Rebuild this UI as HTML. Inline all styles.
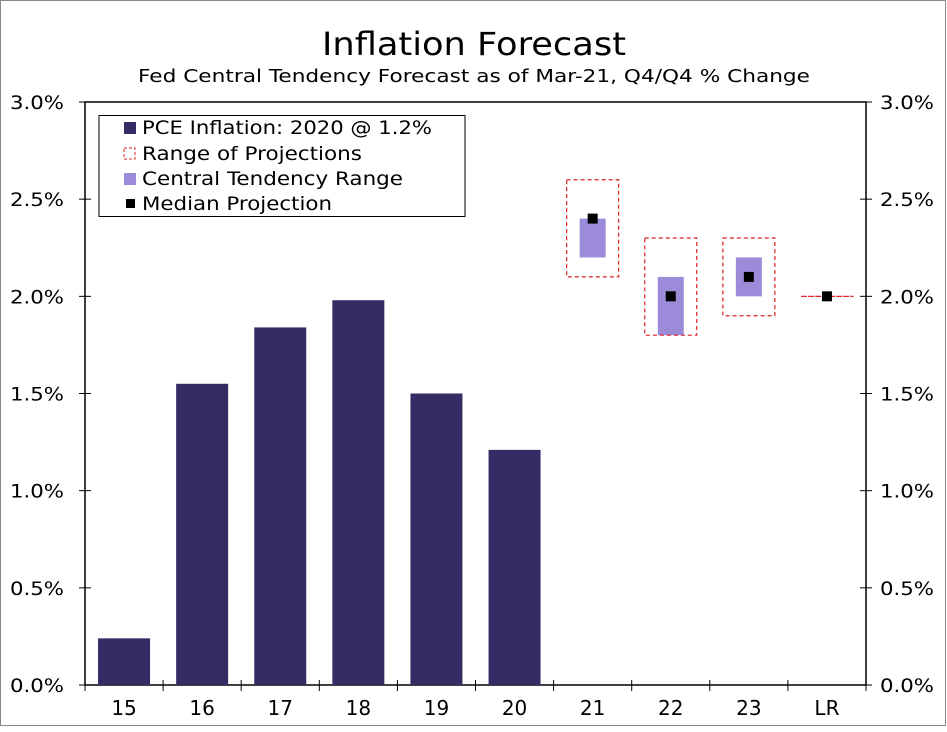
<!DOCTYPE html>
<html><head><meta charset="utf-8"><style>
body{margin:0;background:#fff}
svg text{font-family:"DejaVu Sans","Liberation Sans",sans-serif}
</style></head><body>
<svg id="chart" width="947" height="727" xmlns="http://www.w3.org/2000/svg">
<rect x="0.5" y="0.5" width="945" height="725" fill="#fff" stroke="#888"/>
<text x="322" y="55" font-size="32" textLength="304" lengthAdjust="spacingAndGlyphs">Inflation Forecast</text>
<text x="138" y="82" font-size="18" textLength="672" lengthAdjust="spacingAndGlyphs">Fed Central Tendency Forecast as of Mar-21, Q4/Q4 % Change</text>
<g id="axes"></g>
<g id="marks"></g>
<g>
<rect x="99" y="115.5" width="366" height="101" fill="#fff" stroke="#000"/>
<rect x="124" y="122" width="12" height="12" fill="#352c66"/>
<text x="142" y="134" font-size="19" textLength="290" lengthAdjust="spacingAndGlyphs">PCE Inflation: 2020 @ 1.2%</text>
<rect x="124" y="148" width="11" height="11" fill="none" stroke="#d22" stroke-dasharray="3,2"/>
<text x="142" y="160" font-size="19" textLength="220" lengthAdjust="spacingAndGlyphs">Range of Projections</text>
<rect x="124" y="173" width="12" height="12" fill="#9b8bd9"/>
<text x="142" y="185" font-size="19" textLength="261" lengthAdjust="spacingAndGlyphs">Central Tendency Range</text>
<rect x="126" y="199" width="9" height="9" fill="#000"/>
<text x="142" y="210" font-size="19" textLength="190" lengthAdjust="spacingAndGlyphs">Median Projection</text>
</g>
</svg>
<script>
const categories=["15","16","17","18","19","20","21","22","23","LR"];
const pceValues=[0.24,1.55,1.84,1.98,1.50,1.21,null,null,null,null];
const rangeLow=[null,null,null,null,null,null,2.1,1.8,1.9,2.0];
const rangeHigh=[null,null,null,null,null,null,2.6,2.3,2.3,2.0];
const centralLow=[null,null,null,null,null,null,2.2,1.8,2.0,2.0];
const centralHigh=[null,null,null,null,null,null,2.4,2.1,2.2,2.0];
const medianValues=[null,null,null,null,null,null,2.4,2.0,2.1,2.0];
const yTicks=[0,0.5,1.0,1.5,2.0,2.5,3.0];
const yTickLabels=["0.0%","0.5%","1.0%","1.5%","2.0%","2.5%","3.0%"];

const NS="http://www.w3.org/2000/svg";
const L=85,R=866,T=102,B=685,step=(R-L)/categories.length;
const y=v=>B-(v/3)*(B-T);
const xc=i=>L+step*(i+0.5);
function mk(tag,attrs,parent){const e=document.createElementNS(NS,tag);for(const k in attrs)e.setAttribute(k,attrs[k]);parent.appendChild(e);return e;}
const axes=document.getElementById('axes'),marks=document.getElementById('marks');
let e;
e=mk('rect',{x:L,y:T,width:R-L,height:B-T,fill:'none',stroke:'#000','stroke-width':1.5},axes);


yTicks.forEach((t,i)=>{
 e=mk('line',{x1:L-6,x2:L+6,y1:y(t),y2:y(t),stroke:'#000'},axes);
 
 
 e=mk('line',{x1:R-6,x2:R+6,y1:y(t),y2:y(t),stroke:'#000'},axes);
 
 
 e=mk('text',{x:10,y:y(t)+7,'font-size':19,textLength:54,lengthAdjust:'spacingAndGlyphs'},axes);e.textContent=yTickLabels[i];
 
 
 e=mk('text',{x:R+14,y:y(t)+7,'font-size':19,textLength:54,lengthAdjust:'spacingAndGlyphs'},axes);e.textContent=yTickLabels[i];
 
 
});
for(let i=0;i<=categories.length;i++){
 e=mk('line',{x1:L+step*i,x2:L+step*i,y1:B-5,y2:B+6,stroke:'#000'},axes);
 
 
}
categories.forEach((c,i)=>{
 e=mk('text',{x:xc(i),y:B+30,'font-size':20,'text-anchor':'middle'},axes);e.textContent=c;
 
 
});
const bw=52,cw=26;
pceValues.forEach((v,i)=>{if(v==null)return;
 e=mk('rect',{x:xc(i)-bw/2,y:y(v),width:bw,height:B-y(v),fill:'#352c66'},marks);
 
 
});
categories.forEach((c,i)=>{
 if(rangeLow[i]==null)return;
 if(centralHigh[i]>centralLow[i]){
  e=mk('rect',{x:xc(i)-cw/2,y:y(centralHigh[i]),width:cw,height:y(centralLow[i])-y(centralHigh[i]),fill:'#9b8bd9'},marks);
  
  
 }
 e=mk('rect',{x:xc(i)-bw/2,y:y(rangeHigh[i]),width:bw,height:Math.max(0.01,y(rangeLow[i])-y(rangeHigh[i])),fill:'none',stroke:'#d22','stroke-width':1.2,'stroke-dasharray':'4,3'},marks);
 
 
 e=mk('rect',{x:xc(i)-5,y:y(medianValues[i])-5,width:10,height:10,fill:'#000'},marks);
 
 
});
</script>
</body></html>
